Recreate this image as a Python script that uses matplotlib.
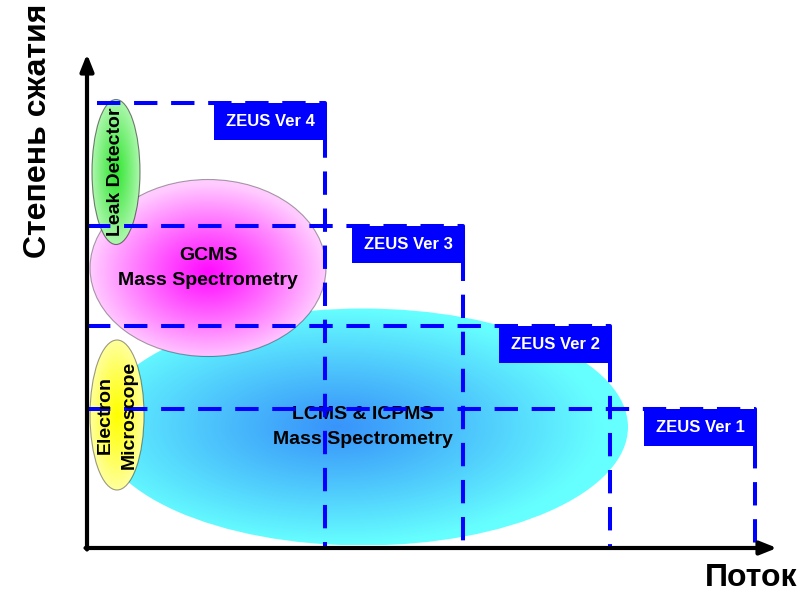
import numpy as np
import matplotlib
matplotlib.use("Agg")
import matplotlib.pyplot as plt
from matplotlib.patches import Ellipse, Rectangle

plt.rcParams['font.family'] = ['Liberation Sans', 'DejaVu Sans']

# ZEUS versions: throughput (x) and compression (y) reach, arbitrary units
versions = ["ZEUS Ver 1", "ZEUS Ver 2", "ZEUS Ver 3", "ZEUS Ver 4"]
throughput = [668, 523, 376, 238]
compression = [139, 222, 322, 445]
line_start = [0, 0, 0, 10]

# competing techniques: name, center x, center y, width, height
techniques = ["LCMS & ICPMS\nMass Spectrometry", "GCMS\nMass Spectrometry",
              "Leak Detector", "Electron\nMicroscope"]
tech_x = [276, 121, 29, 30]
tech_y = [121, 280, 376, 133]
tech_w = [530, 236, 48, 54]
tech_h = [237, 177, 145, 150]

# gradient colours (center, edge)
tech_colors = [((0.22, 0.58, 0.98), (0.40, 1.00, 1.00)),
               ((1.00, 0.05, 1.00), (1.00, 0.80, 1.00)),
               ((0.20, 0.90, 0.20), (0.68, 0.97, 0.68)),
               ((1.00, 1.00, 0.00), (1.00, 1.00, 0.62))]
tech_rot = [0, 0, 90, 90]
tech_z = [1, 2, 3, 3]
tech_edge = [None, (0, 0, 0, 0.35), (0, 0, 0, 0.5), (0, 0, 0, 0.4)]
tech_offset = [(0.1, 0.0), (0.0, -0.05), (0.0, 0.0), (0.0, 0.0)]


def radial_fill(ax, cx, cy, w, h, c_in, c_out, z, edge, off):
    xs = np.linspace(cx - w / 2, cx + w / 2, 200)
    ys = np.linspace(cy - h / 2, cy + h / 2, 200)
    X, Y = np.meshgrid(xs, ys)
    gx = cx - off[0] * w / 2
    gy = cy + off[1] * h / 2
    r = np.sqrt(((X - gx) / (w / 2)) ** 2 + ((Y - gy) / (h / 2)) ** 2)
    t = np.clip(r, 0, 1) ** 1.1
    img = np.zeros(X.shape + (3,))
    for k in range(3):
        img[..., k] = c_in[k] * (1 - t) + c_out[k] * t
    ell = Ellipse((cx, cy), w, h, facecolor='none',
                  edgecolor=edge if edge else 'none', lw=0.8, zorder=z + 0.1)
    ax.add_patch(ell)
    im = ax.imshow(img, extent=(xs[0], xs[-1], ys[0], ys[-1]), origin='lower',
                   zorder=z, interpolation='bilinear', aspect='auto')
    im.set_clip_path(ell)


fig = plt.figure(figsize=(8.12, 5.93), dpi=100)
ax = fig.add_axes([0, 0, 1, 1])
ax.set_xlim(-87, 725)
ax.set_ylim(-45, 548)
ax.axis('off')

for i in range(len(techniques)):
    radial_fill(ax, tech_x[i], tech_y[i], tech_w[i], tech_h[i],
                tech_colors[i][0], tech_colors[i][1], tech_z[i],
                tech_edge[i], tech_offset[i])
    ax.text(tech_x[i], tech_y[i], techniques[i], rotation=tech_rot[i],
            ha='center', va='center', fontsize=14, fontweight='bold',
            linespacing=1.55, zorder=3.5 if i == 0 else 5)

# dashed version envelopes
for i in range(len(versions)):
    x1, y1 = throughput[i], compression[i]
    ax.plot([line_start[i], x1, x1], [y1, y1, 0], color='#0000ff', lw=2.9,
            dashes=(5.8, 3.4), zorder=4)
    ax.add_patch(Rectangle((x1 - 111, y1 - 37), 113, 37, facecolor='#0000ff',
                           edgecolor='none', zorder=6))
    ax.text(x1 - 54.5, y1 - 18.5, versions[i], color='white', fontsize=12,
            fontweight='bold', ha='center', va='center', zorder=7)

# axes with arrows
ax.annotate('', xy=(690, 0), xytext=(-1.5, 0),
            arrowprops=dict(arrowstyle='-|>,head_length=1.0,head_width=0.4',
                            lw=3, color='black', shrinkA=0, shrinkB=0), zorder=8)
ax.annotate('', xy=(0, 494), xytext=(0, -1.5),
            arrowprops=dict(arrowstyle='-|>,head_length=1.0,head_width=0.4',
                            lw=3, color='black', shrinkA=0, shrinkB=0), zorder=8)

ax.text(-49, 417, 'Степень сжатия', rotation=90, ha='center', va='center',
        fontsize=23, fontweight='bold')
ax.text(664, -30, 'Поток', ha='center', va='center', fontsize=23,
        fontweight='bold')

fig.savefig('out.png', dpi=100)
